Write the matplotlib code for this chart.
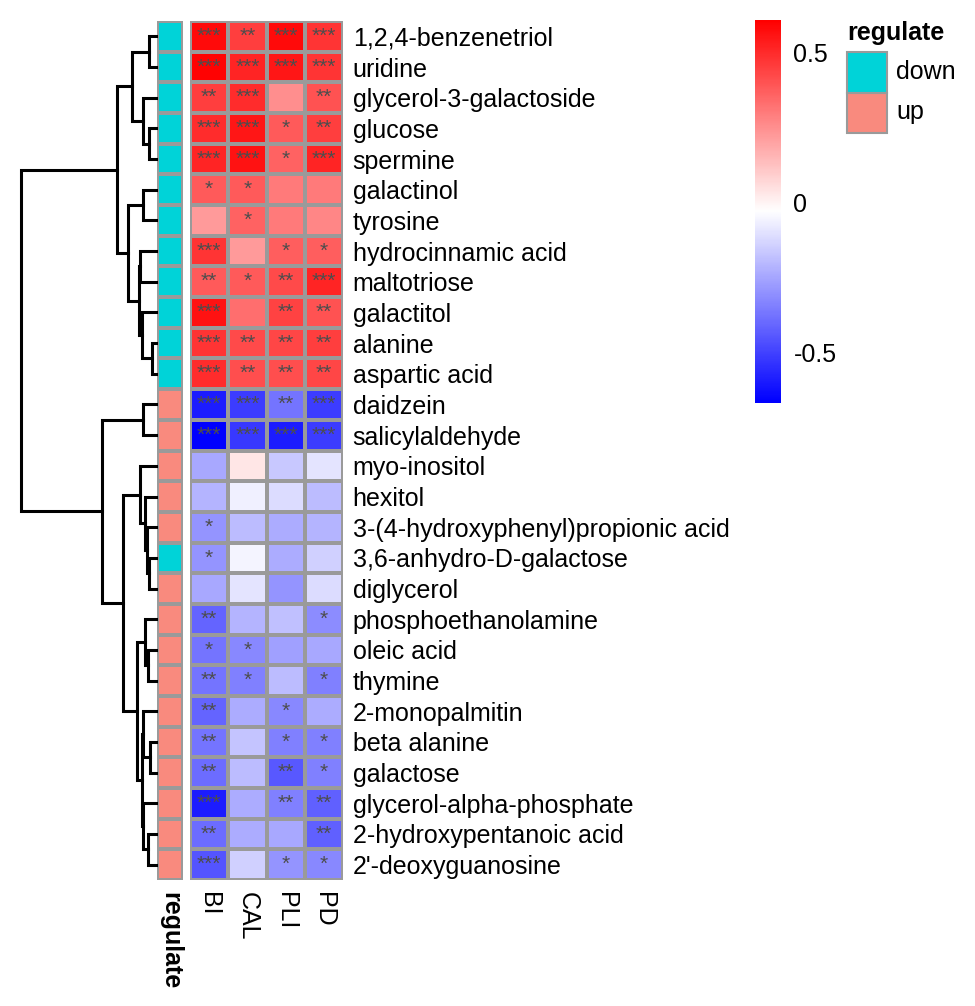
import numpy as np
import matplotlib
matplotlib.use("Agg")
import matplotlib.pyplot as plt
from matplotlib.colors import LinearSegmentedColormap, ListedColormap, Normalize
from matplotlib.patches import Rectangle

plt.rcParams['font.family'] = ['Liberation Sans', 'DejaVu Sans']

# ---------------- data ----------------
metabolites = ["1,2,4-benzenetriol", "uridine", "glycerol-3-galactoside", "glucose",
               "spermine", "galactinol", "tyrosine", "hydrocinnamic acid", "maltotriose",
               "galactitol", "alanine", "aspartic acid", "daidzein", "salicylaldehyde",
               "myo-inositol", "hexitol", "3-(4-hydroxyphenyl)propionic acid",
               "3,6-anhydro-D-galactose", "diglycerol", "phosphoethanolamine", "oleic acid",
               "thymine", "2-monopalmitin", "beta alanine", "galactose",
               "glycerol-alpha-phosphate", "2-hydroxypentanoic acid", "2'-deoxyguanosine"]
groups = ["BI", "CAL", "PLI", "PD"]

val_BI = [0.58, 0.60, 0.45, 0.50, 0.52, 0.38, 0.22, 0.48, 0.38, 0.56, 0.48, 0.50, -0.60, -0.67,
          -0.25, -0.22, -0.30, -0.30, -0.25, -0.42, -0.38, -0.38, -0.42, -0.38, -0.40, -0.60, -0.40, -0.46]
val_CAL = [0.45, 0.52, 0.50, 0.55, 0.56, 0.38, 0.36, 0.22, 0.38, 0.33, 0.42, 0.41, -0.52, -0.53,
           0.03, -0.07, -0.20, -0.06, -0.10, -0.22, -0.33, -0.35, -0.24, -0.18, -0.20, -0.24, -0.24, -0.15]
val_PLI = [0.58, 0.55, 0.25, 0.38, 0.36, 0.30, 0.30, 0.37, 0.42, 0.44, 0.43, 0.41, -0.38, -0.60,
           -0.17, -0.12, -0.24, -0.24, -0.30, -0.19, -0.27, -0.20, -0.33, -0.35, -0.45, -0.35, -0.25, -0.30]
val_PD = [0.48, 0.48, 0.40, 0.45, 0.52, 0.30, 0.27, 0.37, 0.52, 0.40, 0.45, 0.43, -0.52, -0.52,
          -0.10, -0.20, -0.22, -0.15, -0.12, -0.32, -0.25, -0.35, -0.24, -0.35, -0.35, -0.43, -0.43, -0.33]

sig_BI = ["***", "***", "**", "***", "***", "*", "", "***", "**", "***", "***", "***", "***", "***",
          "", "", "*", "*", "", "**", "*", "**", "**", "**", "**", "***", "**", "***"]
sig_CAL = ["**", "***", "***", "***", "***", "*", "*", "", "*", "", "**", "**", "***", "***",
           "", "", "", "", "", "", "*", "*", "", "", "", "", "", ""]
sig_PLI = ["***", "***", "", "*", "*", "", "", "*", "**", "**", "**", "**", "**", "***",
           "", "", "", "", "", "", "", "", "*", "*", "**", "**", "", "*"]
sig_PD = ["***", "***", "**", "**", "***", "", "", "*", "***", "**", "**", "**", "***", "***",
          "", "", "", "", "", "*", "", "*", "", "*", "*", "**", "**", "*"]

regulate = ["down"] * 12 + ["up"] * 5 + ["down"] + ["up"] * 10
regulate_levels = ["down", "up"]

# row dendrogram merges: (child a, child b, height); leaves 0..27, new nodes 28, 29, ...
merges = [(0, 1, 7), (3, 4, 7), (2, 29, 13), (28, 30, 24), (5, 6, 13), (7, 8, 16),
          (10, 11, 4.3), (9, 34, 14.3), (33, 35, 16.8), (32, 36, 28), (31, 37, 39),
          (12, 13, 13), (17, 18, 6.7), (16, 40, 9.3), (15, 41, 11), (14, 42, 16),
          (20, 21, 7.7), (19, 44, 11), (23, 24, 6), (22, 46, 12.7), (26, 27, 7.7),
          (25, 48, 12.7), (47, 49, 14.3), (45, 50, 19.3), (43, 51, 33.3), (39, 52, 54),
          (38, 53, 135)]

vmin, vmax = -0.67, 0.61
col_down, col_up = "#00D3D8", "#F98A7E"
border = "#9A9A9A"

# ---------------- figure ----------------
W, H = 975, 1006
fig = plt.figure(figsize=(W / 100, H / 100), dpi=100)

def px_axes(x0, y0, x1, y1):
    return fig.add_axes([x0 / W, 1 - y1 / H, (x1 - x0) / W, (y1 - y0) / H])

top, bottom = 21, 880
n = len(metabolites)
data = np.array([val_BI, val_CAL, val_PLI, val_PD]).T
sigs = np.array([sig_BI, sig_CAL, sig_PLI, sig_PD]).T

cmap = LinearSegmentedColormap.from_list("bwr_ph", ["#0000FF", "#FFFFFF", "#FF0000"], N=256)
norm = Normalize(vmin=vmin, vmax=vmax)

# heatmap
axh = px_axes(190, top, 343, bottom)
axh.pcolormesh(np.arange(len(groups) + 1), np.arange(n + 1), data, cmap=cmap, norm=norm,
               edgecolors=border, linewidth=1.5)
axh.set_xlim(0, len(groups))
axh.set_ylim(n, 0)
for i in range(n):
    for j in range(len(groups)):
        if sigs[i, j]:
            axh.text(j + 0.5, i + 0.5, sigs[i, j], ha="center", va="center",
                     fontsize=15, color="#4D4D4D")
axh.yaxis.tick_right()
axh.set_yticks(np.arange(n) + 0.5)
axh.set_yticklabels(metabolites, fontsize=18)
axh.set_xticks(np.arange(len(groups)) + 0.5)
axh.set_xticklabels(groups, fontsize=18, rotation=270, ha="center", va="top")
axh.tick_params(length=0, pad=7)
axh.tick_params(axis="x", pad=9)
for s in axh.spines.values():
    s.set_visible(False)

# annotation column
axa = px_axes(157, top, 183, bottom)
codes = np.array([[regulate_levels.index(r)] for r in regulate])
axa.pcolormesh([0, 1], np.arange(n + 1), codes, cmap=ListedColormap([col_down, col_up]),
               vmin=0, vmax=1, edgecolors=border, linewidth=1.5)
axa.set_xlim(0, 1)
axa.set_ylim(n, 0)
axa.set_yticks([])
axa.set_xticks([0.5])
axa.set_xticklabels(["regulate"], fontsize=18, fontweight="bold", rotation=270, ha="center", va="top")
axa.tick_params(length=0, pad=9)
for s in axa.spines.values():
    s.set_visible(False)

# dendrogram
axd = px_axes(21, top, 156, bottom)
pos = {i: (i + 0.5, 0.0) for i in range(n)}
nid = n
for a, b, h in merges:
    ya, ha_ = pos[a]
    yb, hb = pos[b]
    axd.plot([ha_, h, h, hb], [ya, ya, yb, yb], color="black", lw=2.2,
             solid_joinstyle="miter", clip_on=False)
    pos[nid] = ((ya + yb) / 2, h)
    nid += 1
axd.set_xlim(max(m[2] for m in merges), 0)
axd.set_ylim(n, 0)
axd.axis("off")

# colorbar
axc = px_axes(755, 20, 781, 403)
grad = np.linspace(vmin, vmax, 300).reshape(-1, 1)
axc.imshow(grad, cmap=cmap, norm=norm, aspect="auto", origin="lower",
           extent=[0, 1, vmin, vmax])
axc.set_xticks([])
axc.yaxis.tick_right()
axc.set_yticks([-0.5, 0, 0.5])
axc.set_yticklabels(["-0.5", "0", "0.5"], fontsize=18)
axc.tick_params(length=0, pad=9)
for s in axc.spines.values():
    s.set_visible(False)

# regulate legend
axl = px_axes(830, 10, 975, 150)
axl.set_xlim(830, 975)
axl.set_ylim(150, 10)
axl.axis("off")
axl.text(847, 33, "regulate", fontsize=18, fontweight="bold", ha="left", va="center")
for k, (lab, colr) in enumerate(zip(regulate_levels, [col_down, col_up])):
    y0 = 52 + k * 40.5
    axl.add_patch(Rectangle((847, y0), 40, 40.5, facecolor=colr, edgecolor=border, lw=1.5))
    axl.text(896, y0 + 20, lab, fontsize=18, ha="left", va="center")

fig.savefig("out.png", dpi=100, facecolor="white")
